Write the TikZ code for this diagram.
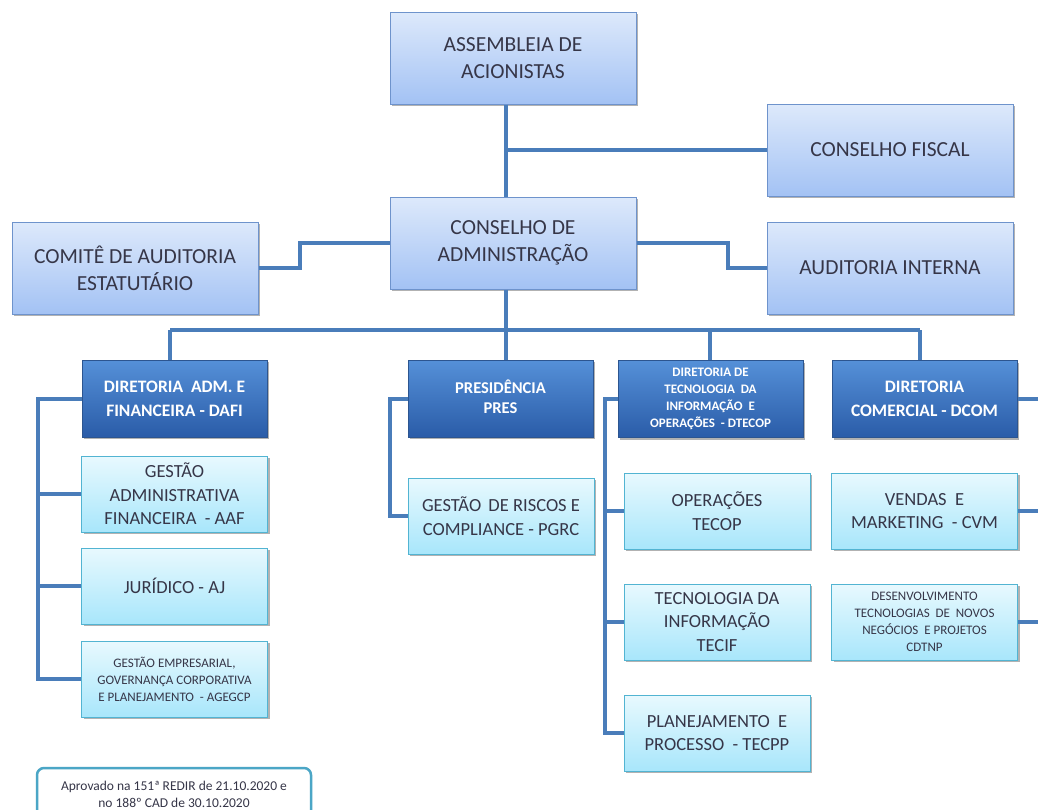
\documentclass[tikz,border=0pt]{standalone}
\usepackage{fontspec}
\setmainfont{Carlito}
\usetikzlibrary{shadows}
\definecolor{txt}{HTML}{363648}
\definecolor{lineC}{HTML}{4A7DBA}
\definecolor{topA}{HTML}{DDE9FB}
\definecolor{topB}{HTML}{A3C2F4}
\definecolor{topD}{HTML}{6E93CC}
\definecolor{dirA}{HTML}{5590D8}
\definecolor{dirB}{HTML}{2A5CA8}
\definecolor{dirD}{HTML}{2C5590}
\definecolor{subA}{HTML}{E8F9FE}
\definecolor{subB}{HTML}{A8E6FB}
\definecolor{subD}{HTML}{52B4D2}
\definecolor{noteD}{HTML}{4BA6C6}
\tikzset{
  base/.style={draw, line width=1pt, align=center, inner sep=2pt,
    drop shadow={shadow xshift=2pt, shadow yshift=-2pt, opacity=0.3, fill=black}},
  topbox/.style={base, draw=topD, top color=topA, bottom color=topB, text=txt,
    font=\fontsize{21.5}{27}\selectfont, minimum width=246, minimum height=92},
  dirbox/.style={base, draw=dirD, top color=dirA, bottom color=dirB, text=white,
    font=\bfseries\fontsize{17.5}{24}\selectfont, minimum width=185, minimum height=77},
  subbox/.style={base, draw=subD, top color=subA, bottom color=subB, text=txt,
    font=\fontsize{18.5}{23.5}\selectfont, minimum width=186, minimum height=76},
  smalltxt/.style={font=\fontsize{13}{17}\selectfont},
  conn/.style={draw=lineC, line width=4pt},
  note/.style={draw=noteD, line width=2.5pt, rounded corners=7pt, fill=white, text=txt,
    align=center, font=\fontsize{13.5}{17}\selectfont, minimum width=274, minimum height=52}
}
\begin{document}
\begin{tikzpicture}[x=1pt,y=-1pt]
\clip (0,0) rectangle (1038,809);
\fill[white] (0,0) rectangle (1038,809);

% coordinates for connector routing
\coordinate (bx) at (506,330);
\coordinate (k1) at (300,0);
\coordinate (k2) at (728,0);
\coordinate (j1) at (506,150);
\coordinate (d1) at (170,330);
\coordinate (d2) at (506,330);
\coordinate (d3) at (710,330);
\coordinate (d4) at (920,330);
\coordinate (c1) at (38,0);
\coordinate (c2) at (390,0);
\coordinate (c3) at (605,0);
\coordinate (e1) at (1045,0);

% top level
\node[topbox] (asm) at (513,58) {ASSEMBLEIA DE\\ACIONISTAS};
\node[topbox] (cf) at (890,150) {CONSELHO FISCAL};
\node[topbox] (ca) at (513,243) {CONSELHO DE\\ADMINISTRAÇÃO};
\node[topbox] (cm) at (135,268) {COMITÊ DE AUDITORIA\\ESTATUTÁRIO};
\node[topbox] (ai) at (890,268) {AUDITORIA INTERNA};

% directorates
\node[dirbox] (dafi) at (174.5,398.5) {DIRETORIA \ ADM. E\\FINANCEIRA - DAFI};
\node[dirbox, font=\bfseries\fontsize{16.5}{20}\selectfont, text depth=4pt] (pres) at (500.5,398.5) {PRESIDÊNCIA\\PRES};
\node[dirbox, font=\bfseries\fontsize{13}{17}\selectfont] (dtecop) at (710.5,399) {DIRETORIA DE\\TECNOLOGIA \ DA\\INFORMAÇÃO \ E\\OPERAÇÕES \ - DTECOP};
\node[dirbox] (dcom) at (924.5,399) {DIRETORIA\\COMERCIAL - DCOM};

% DAFI units
\node[subbox] (aaf) at (174.5,494) {GESTÃO\\ADMINISTRATIVA\\FINANCEIRA \ - AAF};
\node[subbox] (aj) at (174.5,586) {JURÍDICO - AJ};
\node[subbox, smalltxt] (agegcp) at (174.5,679) {GESTÃO EMPRESARIAL,\\GOVERNANÇA CORPORATIVA\\E PLANEJAMENTO \ - AGEGCP};

% PRES units
\node[subbox] (grc) at (501,516) {GESTÃO \,DE RISCOS E\\COMPLIANCE - PGRC};

% DTECOP units
\node[subbox] (tecop) at (717,511) {OPERAÇÕES\\TECOP};
\node[subbox] (tecif) at (717,622) {TECNOLOGIA DA\\INFORMAÇÃO\\TECIF};
\node[subbox] (tecpp) at (717,733) {PLANEJAMENTO \ E\\PROCESSO \ - TECPP};

% DCOM units
\node[subbox] (cvm) at (924.5,511) {VENDAS \ E\\MARKETING \ - CVM};
\node[subbox, font=\fontsize{13}{17}\selectfont] (cdtnp) at (924.5,622) {DESENVOLVIMENTO\\TECNOLOGIAS \ DE \ NOVOS\\NEGÓCIOS \ E PROJETOS\\CDTNP};

% approval note
\node[note] (apr) at (174,794) {Aprovado na 151ª REDIR de 21.10.2020 e\\no 188º CAD de 30.10.2020};

% connectors
\draw[conn] (asm.south -| bx) -- (ca.north -| bx);
\draw[conn] (j1) -- (j1 -| cf.west);
\draw[conn] (ca.west) -- (ca.west -| k1) |- (cm.east);
\draw[conn] (ca.east) -- (ca.east -| k2) |- (ai.west);
\draw[conn] (ca.south -| bx) -- (bx);
\draw[conn] (d1) -- (d4);
\draw[conn] (d1) -- (d1 |- dafi.north);
\draw[conn] (d2) -- (d2 |- pres.north);
\draw[conn] (d3) -- (d3 |- dtecop.north);
\draw[conn] (d4) -- (d4 |- dcom.north);

\draw[conn] (dafi.west) -| (c1 |- agegcp.west) -- (agegcp.west);
\draw[conn] (c1 |- aaf.west) -- (aaf.west);
\draw[conn] (c1 |- aj.west) -- (aj.west);

\draw[conn] (pres.west) -| (c2 |- grc.west) -- (grc.west);

\draw[conn] (dtecop.west) -| (c3 |- tecpp.west) -- (tecpp.west);
\draw[conn] (c3 |- tecop.west) -- (tecop.west);
\draw[conn] (c3 |- tecif.west) -- (tecif.west);

\draw[conn] (dcom.east) -- (dcom.east -| e1);
\draw[conn] (cvm.east) -- (cvm.east -| e1);
\draw[conn] (cdtnp.east) -- (cdtnp.east -| e1);
\end{tikzpicture}
\end{document}
